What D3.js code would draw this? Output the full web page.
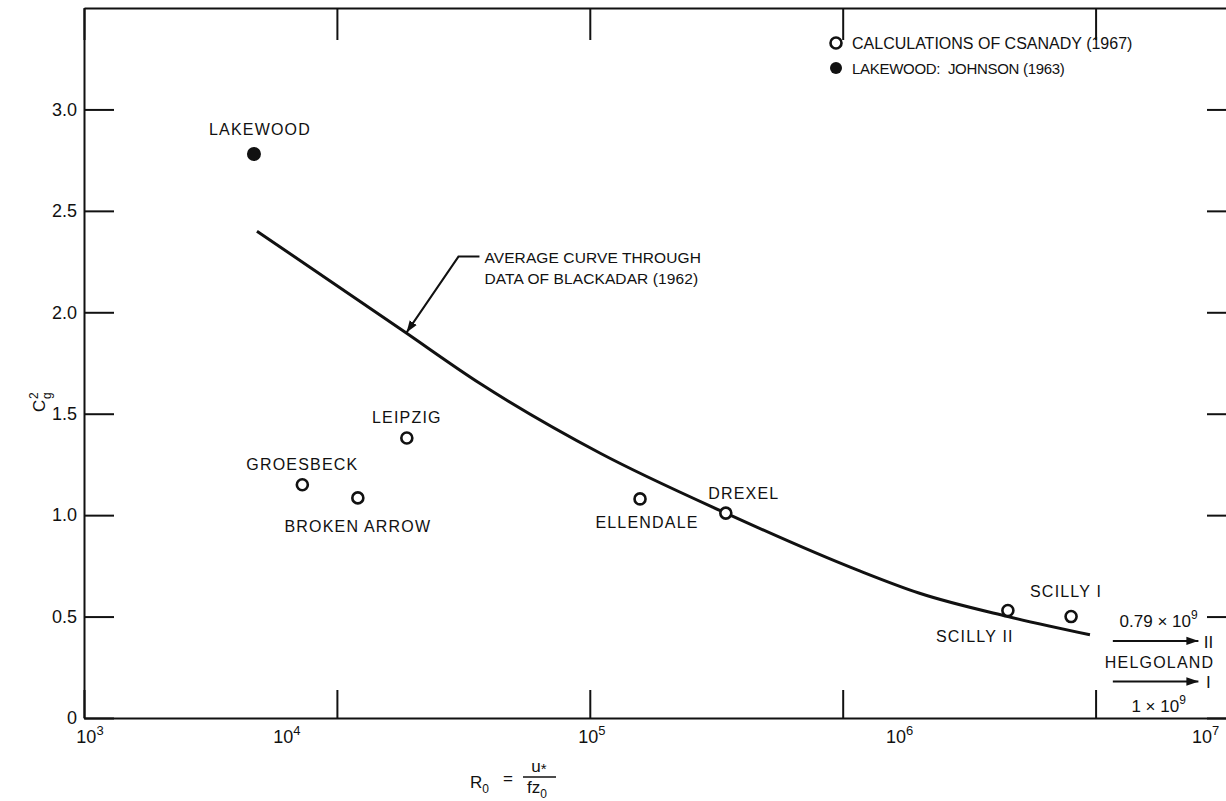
<!DOCTYPE html>
<meta charset="utf-8">
<style>
  body { margin: 0; background: #fff; }
  text { font-family: "Liberation Sans", Arial, sans-serif; fill: #111; }
  .axis path, .axis line { stroke: #111; stroke-width: 2; }
  .lbl { font-size: 16px; letter-spacing: 1.2px; }
  .note { font-size: 15.5px; letter-spacing: 0.1px; }
</style>
<body>
<svg width="1226" height="801"></svg>
<script src="https://d3js.org/d3.v7.min.js"></script>
<script>
// Csanady (1967) calculated points
var stations = ["GROESBECK", "BROKEN ARROW", "LEIPZIG", "ELLENDALE", "DREXEL", "SCILLY II", "SCILLY I"];
var stationR0 = [7.3e3, 1.21e4, 1.89e4, 1.58e5, 3.45e5, 4.5e6, 8.0e6];
var stationC2 = [1.15, 1.085, 1.38, 1.08, 1.01, 0.53, 0.50];
// label offset from point (px) - layout only
var labelDx = [0, 0, 0, 7, 18, -33, -5];
var labelDy = [-15, 34, -15, 29, -14, 32, -20];

// Lakewood, Johnson (1963)
var lakewoodR0 = 4.7e3;
var lakewoodC2 = 2.78;

// average curve through Blackadar (1962) data
var curveR0 = [4.83e3, 1.82e4, 3.67e4, 1.1e5, 3.45e5, 1.14e6, 2.0e6, 4.5e6, 9.5e6];
var curveC2 = [2.40, 1.91, 1.65, 1.305, 1.01, 0.73, 0.616, 0.50, 0.41];

// Helgoland, off scale
var helgoName = ["II", "I"];
var helgoC2 = [0.38, 0.18];

var xTicks = [1e3, 1e4, 1e5, 1e6, 1e7];
var xLabelShift = [6, -50, 2, 57, 110];   // labels sit off their ticks in the original
var yTicks = [0, 0.5, 1.0, 1.5, 2.0, 2.5, 3.0];

var svg = d3.select("svg"),
    L = 84, T = 8, R = 1230, B = 718;

var x = d3.scaleLog().domain([1e3, 3.4e7]).range([L, R]);
var y = d3.scaleLinear().domain([0, 3.5]).range([B, T]);

// frame + ticks
svg.append("g").attr("class", "axis").attr("transform", "translate(0," + B + ")")
    .call(d3.axisBottom(x).tickValues(xTicks).tickSizeInner(-28).tickSizeOuter(0).tickFormat(""));
svg.append("g").attr("class", "axis").attr("transform", "translate(0," + T + ")")
    .call(d3.axisTop(x).tickValues(xTicks).tickSizeInner(-32).tickSizeOuter(0).tickFormat(""));
svg.append("g").attr("class", "axis").attr("transform", "translate(" + L + ",0)")
    .call(d3.axisLeft(y).tickValues(yTicks).tickSizeInner(-30).tickSizeOuter(0).tickPadding(7)
      .tickFormat(function(d) { return d === 0 ? "0" : d3.format(".1f")(d); }))
    .selectAll("text").style("font-size", "18px");
svg.append("g").attr("class", "axis").attr("transform", "translate(" + R + ",0)")
    .call(d3.axisRight(y).tickValues(yTicks).tickSizeInner(-23).tickSizeOuter(0).tickFormat(""));

// x tick labels 10^n
var xl = svg.append("g").selectAll("text").data(xTicks).enter().append("text")
    .attr("x", function(d, i) { return x(d) + xLabelShift[i]; })
    .attr("y", B + 25)
    .attr("text-anchor", "middle")
    .style("font-size", "18px");
xl.append("tspan").text("10");
xl.append("tspan").attr("dy", -8).style("font-size", "13px")
    .text(function(d) { return Math.round(Math.log10(d)); });

// curve
var line = d3.line()
    .x(function(d) { return x(d[0]); })
    .y(function(d) { return y(d[1]); })
    .curve(d3.curveMonotoneX);
svg.append("path")
    .datum(curveR0.map(function(r, i) { return [r, curveC2[i]]; }))
    .attr("fill", "none").attr("stroke", "#111").attr("stroke-width", 3)
    .attr("d", line);

// open circles
var pts = stations.map(function(s, i) { return {name: s, r0: stationR0[i], c2: stationC2[i], dx: labelDx[i], dy: labelDy[i]}; });
svg.append("g").selectAll("circle").data(pts).enter().append("circle")
    .attr("cx", function(d) { return x(d.r0); })
    .attr("cy", function(d) { return y(d.c2); })
    .attr("r", 5.5).attr("fill", "#fff").attr("stroke", "#111").attr("stroke-width", 2.6);
svg.append("g").selectAll("text").data(pts).enter().append("text")
    .attr("class", "lbl")
    .attr("x", function(d) { return x(d.r0) + d.dx; })
    .attr("y", function(d) { return y(d.c2) + d.dy; })
    .attr("text-anchor", "middle")
    .text(function(d) { return d.name; });

// Lakewood
svg.append("circle").attr("cx", x(lakewoodR0)).attr("cy", y(lakewoodC2)).attr("r", 7).attr("fill", "#111");
svg.append("text").attr("class", "lbl").attr("x", x(lakewoodR0) + 6).attr("y", y(lakewoodC2) - 19)
    .attr("text-anchor", "middle").text("LAKEWOOD");

// arrow marker
var defs = svg.append("defs");
defs.append("marker").attr("id", "ah").attr("viewBox", "0 0 10 10").attr("refX", 10).attr("refY", 5)
    .attr("markerWidth", 6).attr("markerHeight", 6).attr("markerUnits", "strokeWidth").attr("orient", "auto")
  .append("path").attr("d", "M0,1.5L10,5L0,8.5Z").attr("fill", "#111");

// annotation for curve
var tip = [x(1.85e4), y(1.89)];
svg.append("path").attr("fill", "none").attr("stroke", "#111").attr("stroke-width", 2)
    .attr("marker-end", "url(#ah)")
    .attr("d", "M" + (tip[0] + 75) + "," + (tip[1] - 78) + "H" + (tip[0] + 54) + "L" + (tip[0] + 2) + "," + (tip[1] - 2));
svg.append("text").attr("class", "note").attr("x", tip[0] + 80).attr("y", tip[1] - 72).text("AVERAGE CURVE THROUGH");
svg.append("text").attr("class", "note").attr("x", tip[0] + 80).attr("y", tip[1] - 51).text("DATA OF BLACKADAR (1962)");

// Helgoland off-scale arrows
var ax0 = x(1.17e7), ax1 = x(2.55e7);
helgoC2.forEach(function(c, i) {
  svg.append("line").attr("x1", ax0).attr("x2", ax1).attr("y1", y(c)).attr("y2", y(c))
      .attr("stroke", "#111").attr("stroke-width", 2).attr("marker-end", "url(#ah)");
  svg.append("text").attr("x", ax1 + 10).attr("y", y(c) + 7).attr("text-anchor", "middle")
      .style("font-size", "17px").text(helgoName[i]);
});
var hx = (ax0 + ax1) / 2 + 3;
var t1 = svg.append("text").attr("x", hx).attr("y", y(helgoC2[0]) - 14).attr("text-anchor", "middle").style("font-size", "17px");
t1.append("tspan").text("0.79 \u00d7 10");
t1.append("tspan").attr("dy", -8).style("font-size", "12px").text("9");
svg.append("text").attr("class", "lbl").attr("x", hx + 1).attr("y", y(helgoC2[0]) + 27).attr("text-anchor", "middle").text("HELGOLAND");
var t2 = svg.append("text").attr("x", hx).attr("y", y(helgoC2[1]) + 31).attr("text-anchor", "middle").style("font-size", "17px");
t2.append("tspan").text("1 \u00d7 10");
t2.append("tspan").attr("dy", -8).style("font-size", "12px").text("9");

// legend
var leg = svg.append("g").attr("transform", "translate(836,43)");
leg.append("circle").attr("r", 5.5).attr("fill", "#fff").attr("stroke", "#111").attr("stroke-width", 2.6);
leg.append("text").attr("x", 16).attr("y", 6).style("font-size", "16px").text("CALCULATIONS OF CSANADY (1967)");
leg.append("circle").attr("cy", 25).attr("r", 6).attr("fill", "#111");
leg.append("text").attr("x", 16).attr("y", 31).style("font-size", "15px").style("letter-spacing", "-0.3px")
    .style("white-space", "pre").text("LAKEWOOD:  JOHNSON (1963)");

// y title
var yt = svg.append("text").attr("transform", "translate(45,412) rotate(-90)").style("font-size", "17px");
yt.append("tspan").text("C");
yt.append("tspan").attr("x", 13).attr("dy", -7).style("font-size", "12px").text("2");
yt.append("tspan").attr("x", 13).attr("dy", 13).style("font-size", "12px").text("g");

// x title  R0 = u* / fz0
var xt = svg.append("g").attr("transform", "translate(470,778)");
var r0 = xt.append("text").attr("y", 10).style("font-size", "17px");
r0.append("tspan").text("R");
r0.append("tspan").attr("dy", 5).style("font-size", "12px").text("0");
xt.append("text").attr("x", 33).attr("y", 6).style("font-size", "17px").text("=");
xt.append("line").attr("x1", 53).attr("x2", 86).attr("y1", -1).attr("y2", -1).attr("stroke", "#111").attr("stroke-width", 1.5);
var ut = xt.append("text").attr("x", 69).attr("y", -6).attr("text-anchor", "middle").style("font-size", "17px");
ut.append("tspan").text("u");
ut.append("tspan").attr("dy", 2).style("font-size", "15px").text("*");
var ft = xt.append("text").attr("x", 67).attr("y", 15).attr("text-anchor", "middle").style("font-size", "17px");
ft.append("tspan").text("fz");
ft.append("tspan").attr("dy", 5).style("font-size", "12px").text("0");
</script>
</body>
